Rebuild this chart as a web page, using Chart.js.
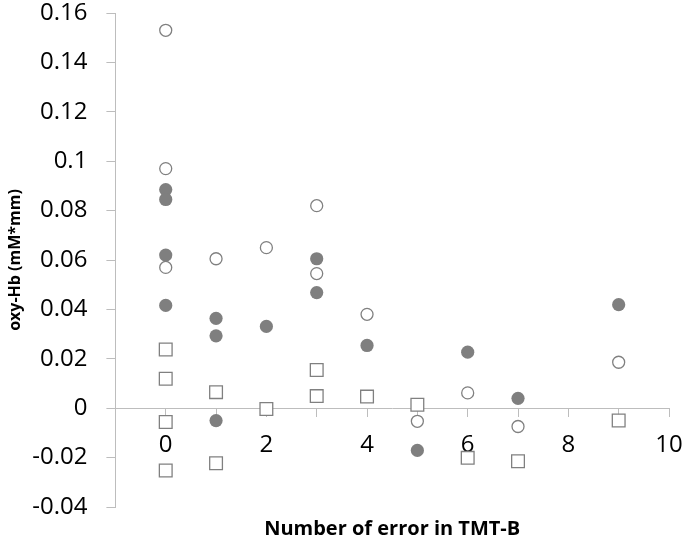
<!DOCTYPE html>
<html>
<head>
<meta charset="utf-8">
<script src="https://cdn.jsdelivr.net/npm/chart.js@4/dist/chart.umd.min.js"></script>
<style>
  body { margin: 0; background: #fff; }
</style>
</head>
<body>
<canvas id="plot1" width="685" height="541"></canvas>
<script>
//Valores (eje x: errores en TMT-B, eje y: oxy-Hb)
let abiertosX = [0, 0, 0, 1, 2, 3, 3, 4, 5, 6, 7, 9]
let abiertosY = [0.153, 0.097, 0.057, 0.0605, 0.065, 0.082, 0.0545, 0.038, -0.0053, 0.0062, -0.0074, 0.0186]

let llenosX = [0, 0, 0, 0, 1, 1, 1, 2, 3, 3, 4, 5, 6, 7, 9]
let llenosY = [0.0885, 0.0845, 0.062, 0.0416, 0.0364, 0.0293, -0.005, 0.0331, 0.0605, 0.0468, 0.0254, -0.0171, 0.0227, 0.004, 0.0419]

let cuadradosX = [0, 0, 0, 0, 1, 1, 2, 3, 3, 4, 5, 6, 7, 9]
let cuadradosY = [0.0238, 0.0119, -0.0056, -0.0252, 0.0065, -0.0223, -0.0003, 0.0155, 0.0049, 0.0047, 0.0014, -0.0201, -0.0215, -0.005]

//Etiquetas de los ejes
let tituloX = 'Number of error in TMT-B'
let tituloY = 'oxy-Hb (mM*mm)'
let etiquetasX = [0, 2, 4, 6, 8, 10]

//Une dos arreglos en puntos {x, y}
let puntos = (xs, ys) => xs.map((x, i) => ({ x: x, y: ys[i] }))

let gris = '#808080'
let ejeColor = '#bdbdbd'
let fuente = 'Open Sans'

let plotRef1 = document.getElementById('plot1')

let config1 = {
  type: 'scatter',
  data: {
    datasets: [
      {
        label: 'abiertos',
        data: puntos(abiertosX, abiertosY),
        pointStyle: 'circle',
        pointRadius: 6,
        pointBackgroundColor: '#ffffff',
        pointBorderColor: gris,
        pointBorderWidth: 1.3
      },
      {
        label: 'llenos',
        data: puntos(llenosX, llenosY),
        pointStyle: 'circle',
        pointRadius: 6.6,
        pointBackgroundColor: '#7f7f7f',
        pointBorderColor: '#7f7f7f',
        pointBorderWidth: 0
      },
      {
        label: 'cuadrados',
        data: puntos(cuadradosX, cuadradosY),
        pointStyle: 'rect',
        pointRadius: 9,
        pointBackgroundColor: '#ffffff',
        pointBorderColor: gris,
        pointBorderWidth: 1.3
      }
    ]
  },
  options: {
    responsive: false,
    animation: false,
    layout: { autoPadding: false, padding: { top: 13, right: 16, left: 0, bottom: 0 } },
    plugins: {
      legend: { display: false },
      tooltip: { enabled: false },
      title: {
        display: true,
        position: 'bottom',
        fullSize: false,
        text: tituloX,
        color: '#000',
        font: { family: fuente, size: 20, weight: 'bold' },
        padding: { top: 10, bottom: 0 }
      }
    },
    scales: {
      x: {
        type: 'linear',
        position: { y: 0 },
        min: -1,
        max: 10,
        border: { color: ejeColor, width: 1 },
        //marca de 8px pegada al eje, el resto del largo es el espacio hasta la etiqueta
        grid: { drawOnChartArea: false, drawTicks: true, tickLength: 23, color: ejeColor, tickBorderDash: [8, 1000] },
        ticks: {
          stepSize: 1,
          color: '#000',
          padding: 0,
          font: { family: fuente, size: 24 },
          callback: v => etiquetasX.includes(v) ? String(v) : ''
        }
      },
      y: {
        type: 'linear',
        min: -0.04,
        max: 0.16,
        border: { color: ejeColor, width: 1 },
        //la linea va de afuera hacia el eje: hueco de 19px y marca de 9px
        grid: { drawOnChartArea: false, drawTicks: true, tickLength: 28, color: ejeColor, tickBorderDash: [9, 19], tickBorderDashOffset: 9 },
        ticks: {
          stepSize: 0.02,
          color: '#000',
          padding: 0,
          font: { family: fuente, size: 24, lineHeight: 1 },
          callback: v => String(+v.toFixed(2))
        },
        title: {
          display: true,
          text: tituloY,
          color: '#000',
          font: { family: fuente, size: 16, weight: 'bold' },
          padding: { top: 6, bottom: 7 }
        }
      }
    }
  }
}

let chart1 = new Chart(plotRef1, config1)
</script>
</body>
</html>
